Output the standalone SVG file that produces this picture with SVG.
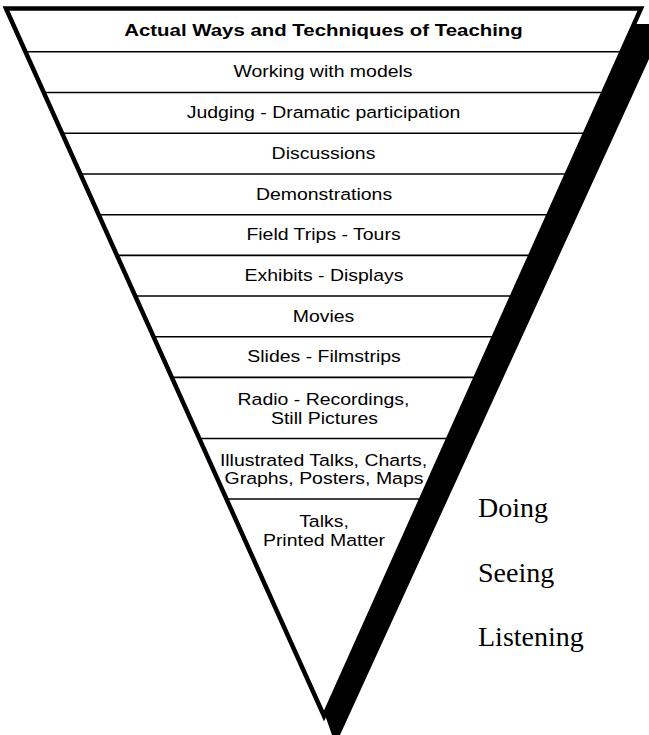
<svg xmlns="http://www.w3.org/2000/svg" width="649" height="735" viewBox="0 0 649 735">
<style>
.row{font-family:"Liberation Sans",Arial,sans-serif;font-size:16.5px;fill:#000;text-anchor:middle}
.title{font-family:"Liberation Sans",Arial,sans-serif;font-size:17.3px;font-weight:bold;fill:#000;text-anchor:middle}
.lab{font-family:"Liberation Serif","Times New Roman",serif;font-size:28px;fill:#000}
.div{stroke:#000;stroke-width:1.6;fill:none}
</style>
<rect width="649" height="735" fill="#fff"/>
<g id="shadow">
<polygon points="634,24 649,24 649,59 340,735 332,735 326,718 324,716" fill="#000"/>
</g>
<g id="dividers">
<line class="div" x1="25.4" y1="51.7" x2="621.6" y2="51.7"/>
<line class="div" x1="43.7" y1="92.5" x2="603.4" y2="92.5"/>
<line class="div" x1="62" y1="133.3" x2="585.1" y2="133.3"/>
<line class="div" x1="80.3" y1="174" x2="566.9" y2="174"/>
<line class="div" x1="98.6" y1="214.7" x2="548.6" y2="214.7"/>
<line class="div" x1="116.9" y1="255.4" x2="530.4" y2="255.4"/>
<line class="div" x1="135.1" y1="296" x2="512.2" y2="296"/>
<line class="div" x1="153.4" y1="336.7" x2="494" y2="336.7"/>
<line class="div" x1="171.6" y1="377.4" x2="475.7" y2="377.4"/>
<line class="div" x1="199.1" y1="438.5" x2="448.4" y2="438.5"/>
<line class="div" x1="226.2" y1="499" x2="421.3" y2="499"/>
</g>
<g id="triangle">
<polygon points="6,8.5 641,8.5 324,716" fill="none" stroke="#000" stroke-width="4.5" stroke-linejoin="miter" stroke-miterlimit="10"/>
</g>
<g id="row-title"><text class="title" transform="matrix(1.18 0 0 1 323.5 0)" x="0" y="36">Actual Ways and Techniques of Teaching</text></g>
<g id="row-1"><text class="row" transform="matrix(1.18 0 0 1 323 0)" x="0" y="77.5">Working with models</text></g>
<g id="row-2"><text class="row" transform="matrix(1.18 0 0 1 323.5 0)" x="0" y="118.3">Judging - Dramatic participation</text></g>
<g id="row-3"><text class="row" transform="matrix(1.18 0 0 1 323.5 0)" x="0" y="159">Discussions</text></g>
<g id="row-4"><text class="row" transform="matrix(1.18 0 0 1 324 0)" x="0" y="199.8">Demonstrations</text></g>
<g id="row-5"><text class="row" transform="matrix(1.18 0 0 1 323.5 0)" x="0" y="240.5">Field Trips - Tours</text></g>
<g id="row-6"><text class="row" transform="matrix(1.18 0 0 1 324 0)" x="0" y="281.2">Exhibits - Displays</text></g>
<g id="row-7"><text class="row" transform="matrix(1.18 0 0 1 323.5 0)" x="0" y="321.8">Movies</text></g>
<g id="row-8"><text class="row" transform="matrix(1.18 0 0 1 324 0)" x="0" y="362.5">Slides - Filmstrips</text></g>
<g id="row-9"><text class="row" transform="matrix(1.18 0 0 1 323.5 0)" x="0" y="405">Radio - Recordings,</text><text class="row" transform="matrix(1.18 0 0 1 324.5 0)" x="0" y="424">Still Pictures</text></g>
<g id="row-10"><text class="row" transform="matrix(1.18 0 0 1 323.5 0)" x="0" y="466">Illustrated Talks, Charts,</text><text class="row" transform="matrix(1.18 0 0 1 324 0)" x="0" y="484">Graphs, Posters, Maps</text></g>
<g id="row-11"><text class="row" transform="matrix(1.18 0 0 1 324 0)" x="0" y="527">Talks,</text><text class="row" transform="matrix(1.18 0 0 1 324 0)" x="0" y="546">Printed Matter</text></g>
<g id="labels">
<text class="lab" x="478" y="517">Doing</text>
<text class="lab" x="478" y="582">Seeing</text>
<text class="lab" x="478" y="646">Listening</text>
</g>
</svg>
